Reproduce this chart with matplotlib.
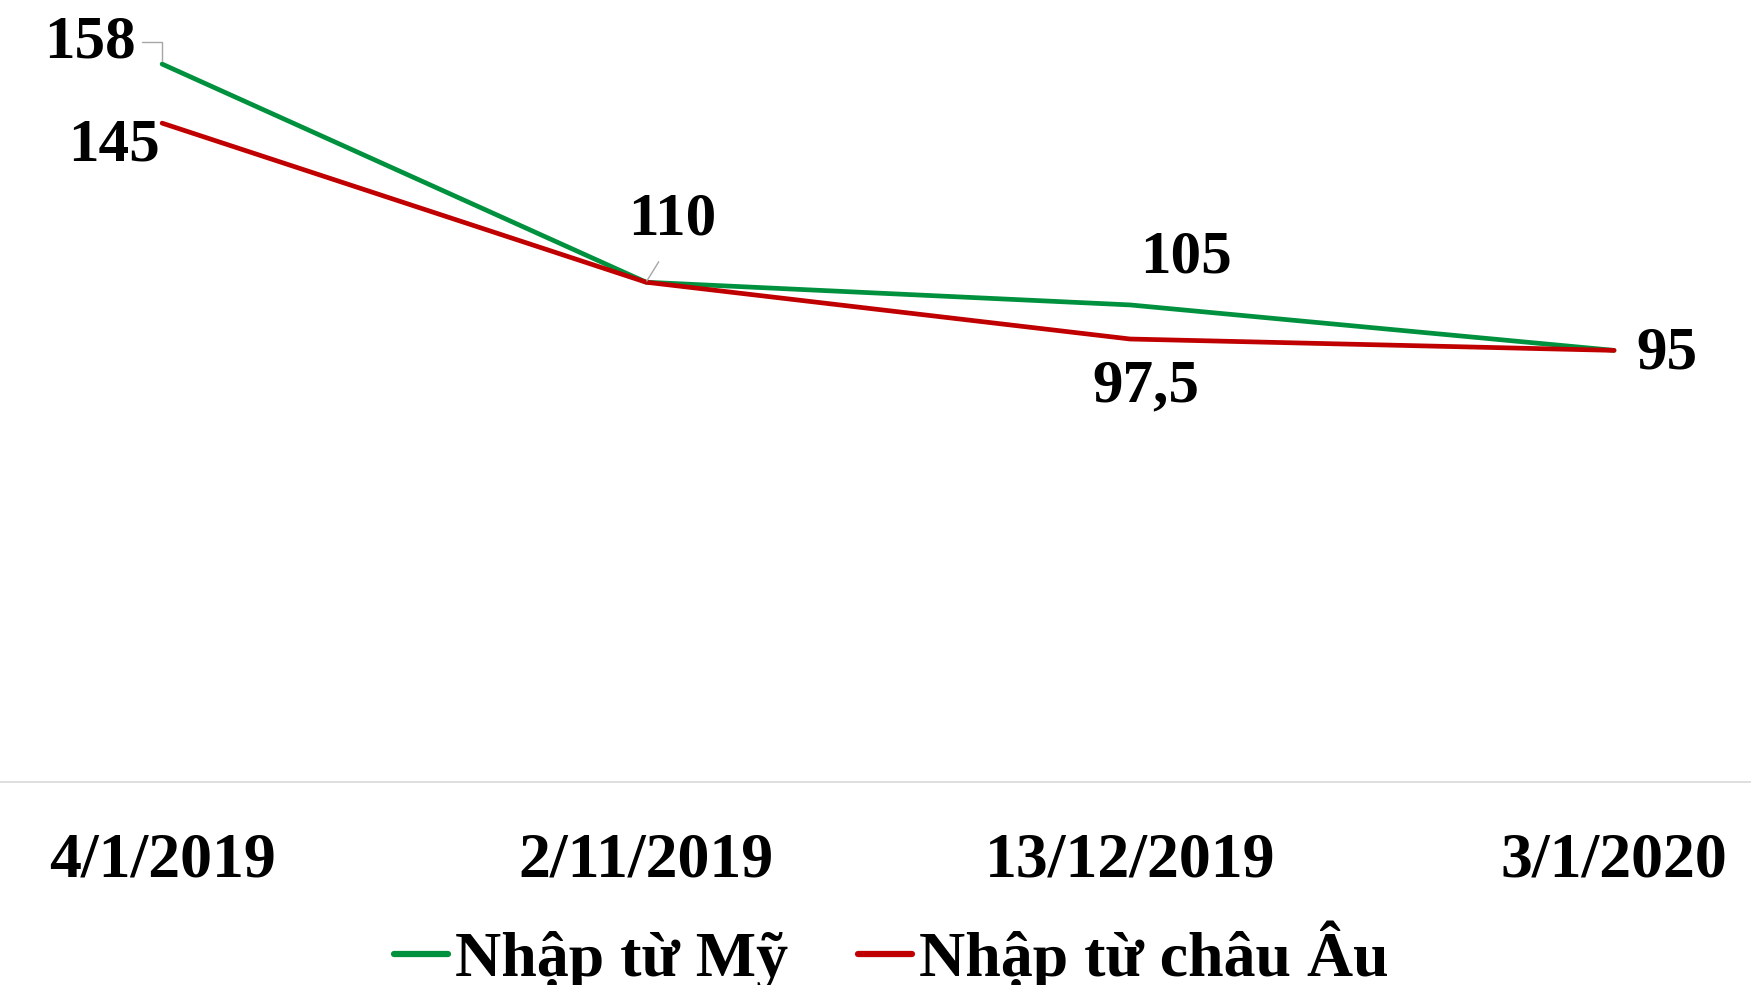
import matplotlib
matplotlib.use("Agg")
import matplotlib.pyplot as plt

# data
dates = ["4/1/2019", "2/11/2019", "13/12/2019", "3/1/2020"]
my_prices = [158, 110, 105, 95]        # Nhập từ Mỹ
eu_prices = [145, 110, 97.5, 95]       # Nhập từ châu Âu
series_names = ["Nhập từ Mỹ", "Nhập từ châu Âu"]

GREEN = "#00913F"
RED = "#C00000"

plt.rcParams["font.family"] = ["Liberation Serif", "DejaVu Serif"]
plt.rcParams["font.weight"] = "bold"


def fmt(v):
    s = f"{v:g}"
    return s.replace(".", ",")


def main():
    fig = plt.figure(figsize=(17.51, 9.85), dpi=100)
    ax = fig.add_axes([0, 0.206, 1, 0.794])

    x = list(range(len(dates)))
    ax.plot(x, my_prices, color=GREEN, lw=3.4, label=series_names[0],
            solid_capstyle="round", solid_joinstyle="round")
    ax.plot(x, eu_prices, color=RED, lw=3.4, label=series_names[1],
            solid_capstyle="round", solid_joinstyle="round")

    ax.set_xlim(-0.335, 3.283)
    ax.set_ylim(0, 172.1)

    for s in ["top", "right", "left"]:
        ax.spines[s].set_visible(False)
    ax.spines["bottom"].set_color("#D9D9D9")
    ax.spines["bottom"].set_linewidth(1.2)
    ax.set_yticks([])
    ax.set_xticks(x)
    ax.set_xticklabels(dates, fontsize=46, fontweight="bold")
    ax.tick_params(axis="x", length=0, pad=36)

    lead = dict(arrowstyle="-", color="#A6A6A6", lw=1)
    lab = dict(ha="center", va="center", fontsize=44, fontweight="bold",
               textcoords="offset pixels")

    # green series labels
    ax.annotate(fmt(my_prices[0]), (x[0], my_prices[0]), xytext=(-72, 22),
                arrowprops=dict(lead, connectionstyle="angle,angleA=0,angleB=90",
                                shrinkA=2, shrinkB=2), **lab)
    ax.annotate(fmt(my_prices[1]), (x[1], my_prices[1]), xytext=(26, 63),
                arrowprops=dict(lead, relpos=(0.45, 0), shrinkA=10, shrinkB=1), **lab)
    ax.annotate(fmt(my_prices[2]), (x[2], my_prices[2]), xytext=(56, 47), **lab)
    ax.annotate(fmt(my_prices[3]), (x[3], my_prices[3]), xytext=(53, -3), **lab)

    # red series labels
    ax.annotate(fmt(eu_prices[0]), (x[0], eu_prices[0]), xytext=(-48, -22), **lab)
    ax.annotate(fmt(eu_prices[2]), (x[2], eu_prices[2]), xytext=(16, -47), **lab)

    leg = fig.legend(loc="center", bbox_to_anchor=(0.509, 0.03), ncol=2, frameon=False,
                     prop=dict(size=46, weight="bold"), handlelength=0.85,
                     handletextpad=0.1, columnspacing=1.1)
    for h in leg.legend_handles:
        h.set_linewidth(4.5)

    fig.savefig("out.png", dpi=100)


if __name__ == "__main__":
    main()
